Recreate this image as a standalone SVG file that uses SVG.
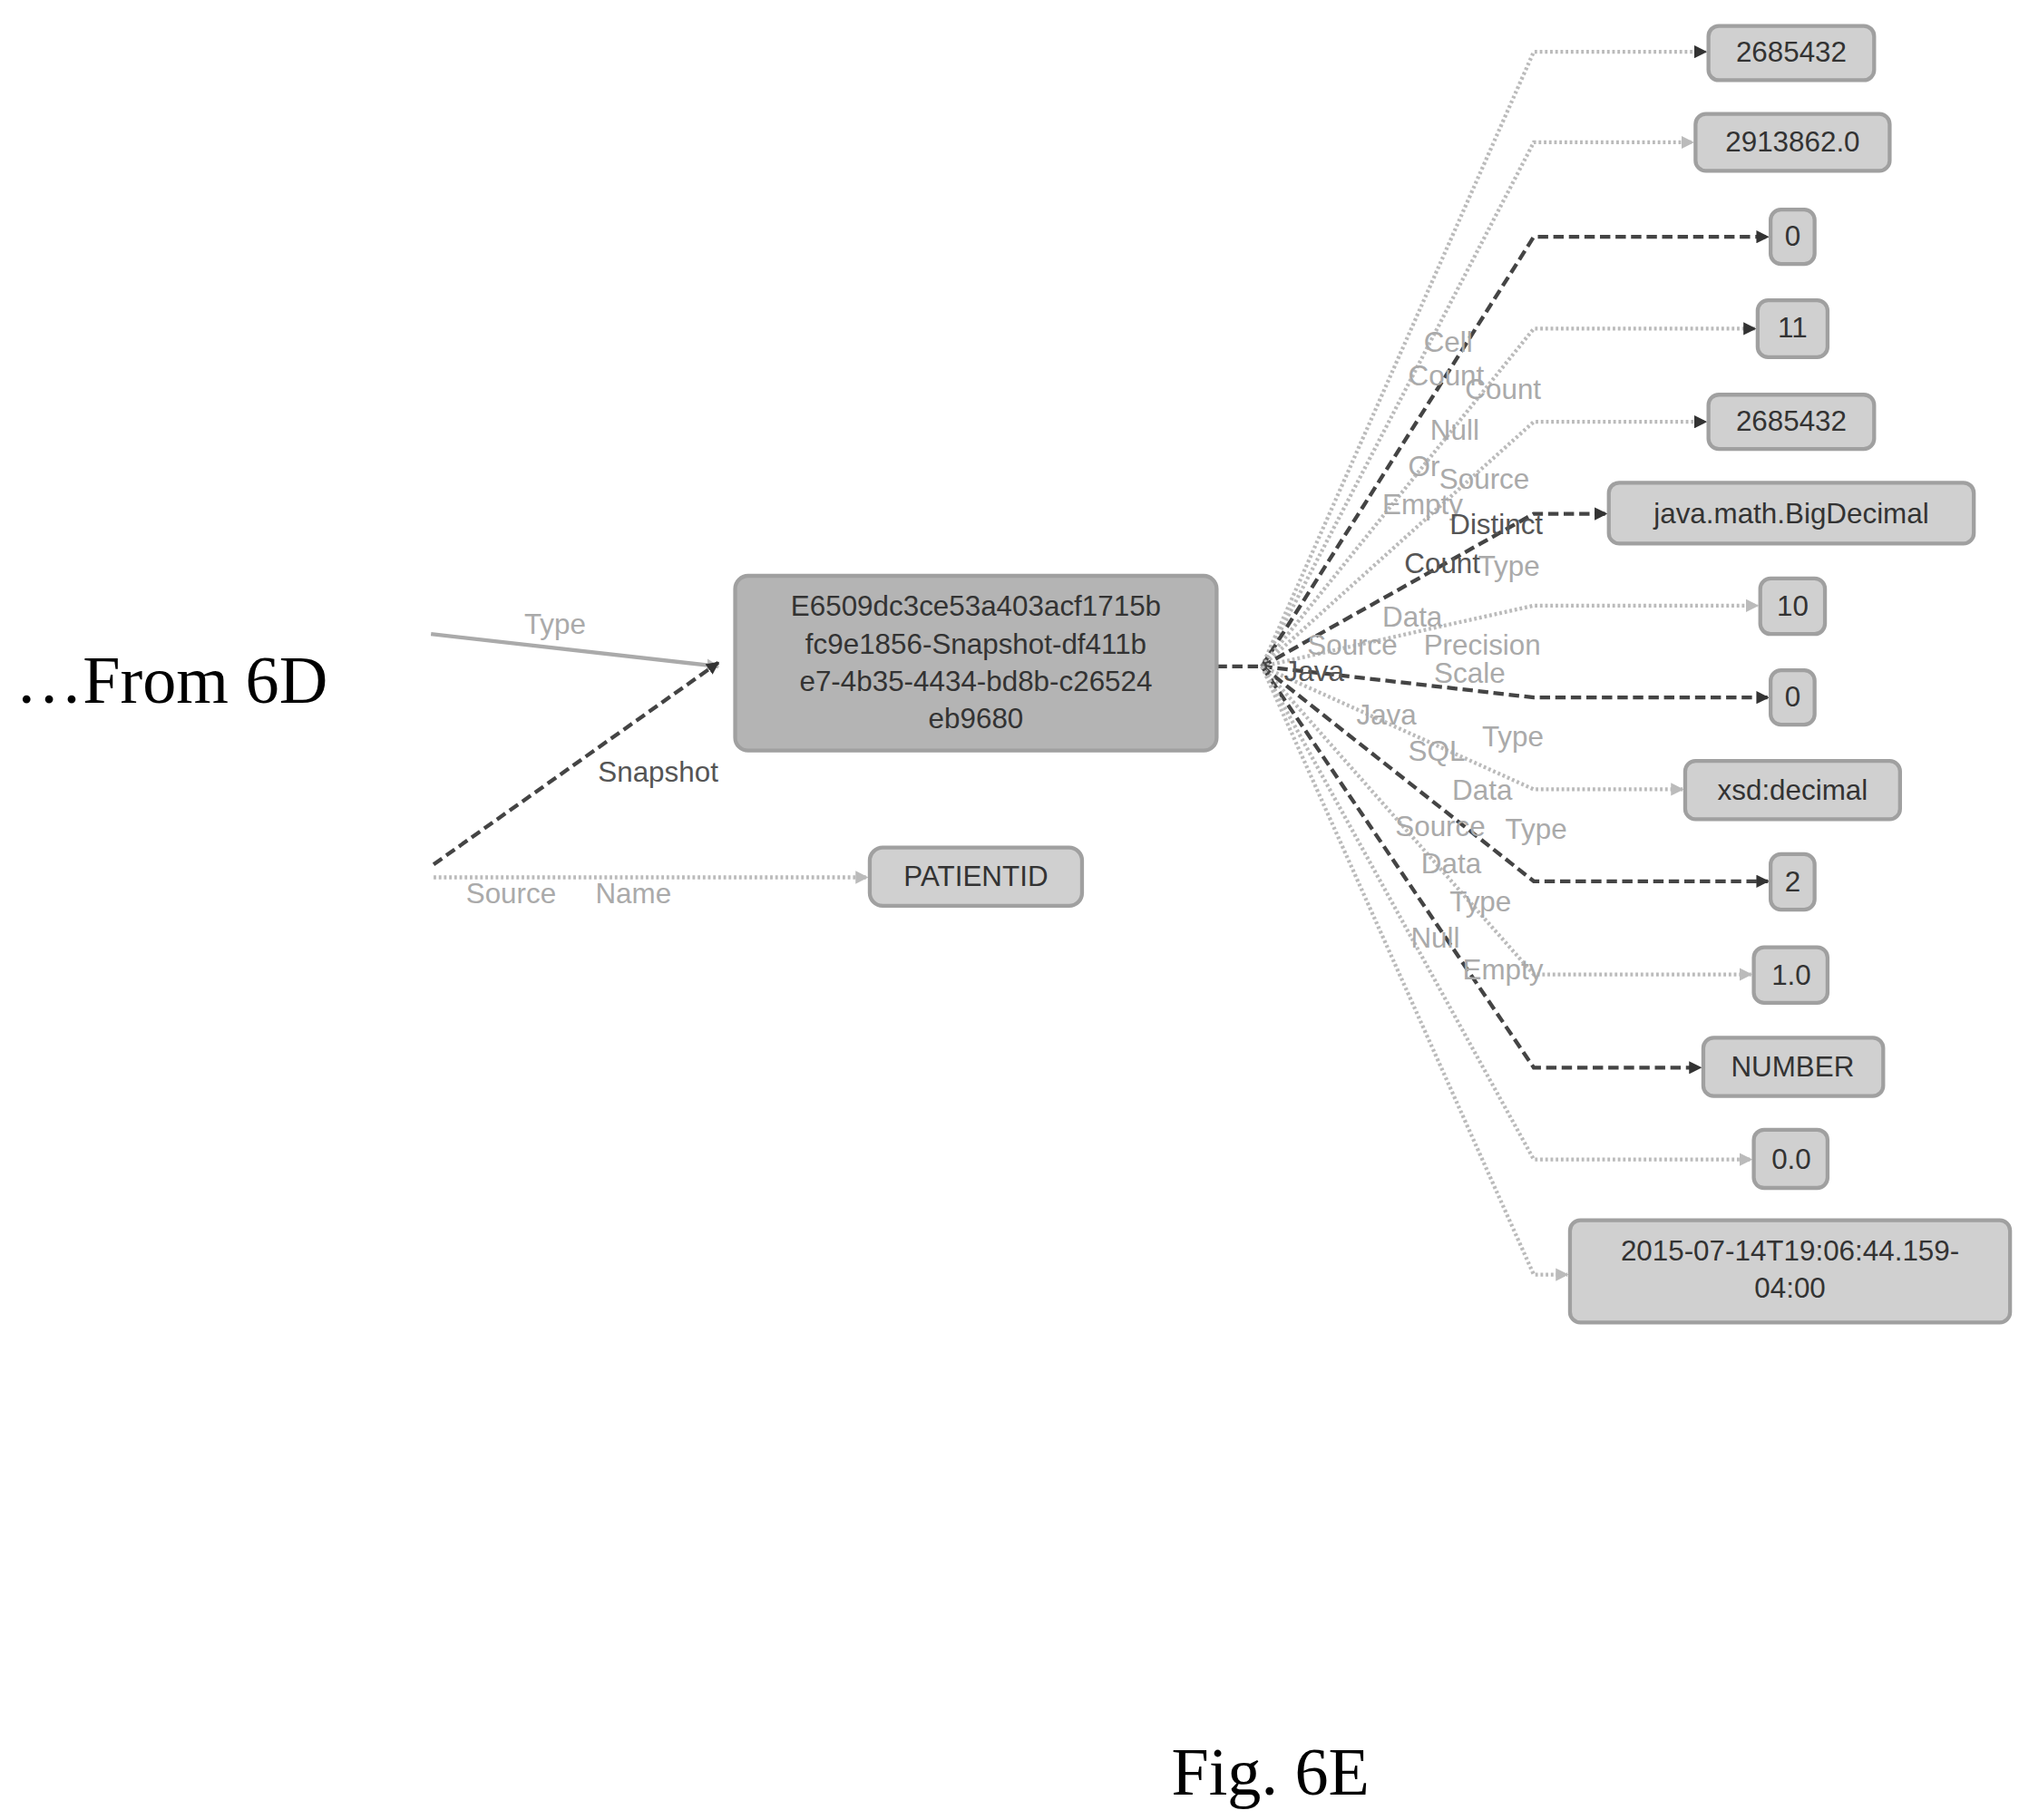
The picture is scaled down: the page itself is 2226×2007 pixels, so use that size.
<svg xmlns="http://www.w3.org/2000/svg" width="2226" height="2007" viewBox="0 0 2226 2007">
<style>
.n rect{fill:#d0d0d0;stroke:#a0a0a0;stroke-width:3}
.n text{font-family:"Liberation Sans",Arial,sans-serif;font-size:22px;fill:#333;text-anchor:middle}
.lg{fill:none;stroke:#bbb;stroke-width:3;stroke-dasharray:2 2}
.dk{fill:none;stroke:#444;stroke-width:3;stroke-dasharray:8 4}
.lb{font-family:"Liberation Sans",Arial,sans-serif;font-size:22px;fill:#aaa}
.lbd{font-family:"Liberation Sans",Arial,sans-serif;font-size:22px;fill:#555}
.big{font-family:"Liberation Serif","Times New Roman",serif;font-size:52px;fill:#000}
</style>
<defs>
<marker id="ag" markerWidth="10" markerHeight="10" refX="9" refY="5" orient="auto" markerUnits="userSpaceOnUse"><path d="M0,0 L10,5 L0,10 z" fill="#bbb"/></marker>
<marker id="ad" markerWidth="10" markerHeight="10" refX="9" refY="5" orient="auto" markerUnits="userSpaceOnUse"><path d="M0,0 L10,5 L0,10 z" fill="#333"/></marker>
</defs>
<rect width="2226" height="2007" fill="#fff"/>
<g transform="scale(1.427)">
<text class="big" x="12" y="543">…From 6D</text>
<text class="big" x="905" y="1387">Fig. 6E</text>
<g id="connectors">
<path d="M333,490 L555,515" fill="none" stroke="#aaa" stroke-width="3" marker-end="url(#ag)"/>
<path d="M335,668 L555,512" class="dk" marker-end="url(#ad)"/>
<path d="M335,678 L670,678" class="lg" marker-end="url(#ag)"/>
<path d="M940,515 L975,515" class="dk"/>
<path d="M975,515 L1185,40 L1318,40" class="lg" marker-end="url(#ad)"/>
<path d="M975,515 L1185,110 L1308,110" class="lg" marker-end="url(#ag)"/>
<path d="M975,515 L1185,183 L1366,183" class="dk" marker-end="url(#ad)"/>
<path d="M975,515 L1185,254 L1356,254" class="lg" marker-end="url(#ad)"/>
<path d="M975,515 L1185,326 L1318,326" class="lg" marker-end="url(#ad)"/>
<path d="M975,515 L1185,397 L1241,397" class="dk" marker-end="url(#ad)"/>
<path d="M975,515 L1185,468 L1358,468" class="lg" marker-end="url(#ag)"/>
<path d="M975,515 L1185,539 L1366,539" class="dk" marker-end="url(#ad)"/>
<path d="M975,515 L1185,610 L1300,610" class="lg" marker-end="url(#ag)"/>
<path d="M975,515 L1185,681 L1366,681" class="dk" marker-end="url(#ad)"/>
<path d="M975,515 L1185,753 L1353,753" class="lg" marker-end="url(#ag)"/>
<path d="M975,515 L1185,825 L1314,825" class="dk" marker-end="url(#ad)"/>
<path d="M975,515 L1185,896 L1353,896" class="lg" marker-end="url(#ag)"/>
<path d="M975,515 L1185,985 L1211,985" class="lg" marker-end="url(#ag)"/>
</g>
<g id="edge-labels">
<text class="lb" x="405" y="490">Type</text>
<text class="lbd" x="462" y="604">Snapshot</text>
<text class="lb" x="360" y="698">Source</text>
<text class="lb" x="460" y="698">Name</text>
<text class="lb" x="1100" y="272">Cell</text>
<text class="lb" x="1088" y="298">Count</text>
<text class="lb" x="1132" y="308">Count</text>
<text class="lb" x="1105" y="340">Null</text>
<text class="lb" x="1088" y="368">Or</text>
<text class="lb" x="1112" y="378">Source</text>
<text class="lb" x="1068" y="397">Empty</text>
<text class="lbd" x="1120" y="413">Distinct</text>
<text class="lbd" x="1085" y="443">Count</text>
<text class="lb" x="1142" y="445">Type</text>
<text class="lb" x="1068" y="484">Data</text>
<text class="lb" x="1010" y="506">Source</text>
<text class="lb" x="1100" y="506">Precision</text>
<text class="lbd" x="992" y="526">Java</text>
<text class="lb" x="1108" y="528">Scale</text>
<text class="lb" x="1048" y="560">Java</text>
<text class="lb" x="1145" y="577">Type</text>
<text class="lb" x="1088" y="588">SQL</text>
<text class="lb" x="1122" y="618">Data</text>
<text class="lb" x="1078" y="646">Source</text>
<text class="lb" x="1163" y="648">Type</text>
<text class="lb" x="1098" y="675">Data</text>
<text class="lb" x="1120" y="704">Type</text>
<text class="lb" x="1090" y="732">Null</text>
<text class="lb" x="1130" y="757">Empty</text>
</g>
<g id="center" class="n"><rect x="568" y="445" width="372" height="135" rx="10" style="fill:#b4b4b4"/>
<text x="754" y="476">E6509dc3ce53a403acf1715b</text><text x="754" y="505">fc9e1856-Snapshot-df411b</text><text x="754" y="534">e7-4b35-4434-bd8b-c26524</text><text x="754" y="563">eb9680</text></g>
<g id="patientid" class="n"><rect x="672" y="655" width="164" height="45" rx="10"/><text x="754" y="685">PATIENTID</text></g>
<g id="v1" class="n"><rect x="1320" y="20" width="128" height="42" rx="8"/><text x="1384" y="48">2685432</text></g>
<g id="v2" class="n"><rect x="1310" y="88" width="150" height="44" rx="8"/><text x="1385" y="117">2913862.0</text></g>
<g id="v3" class="n"><rect x="1368" y="162" width="34" height="42" rx="8"/><text x="1385" y="190">0</text></g>
<g id="v4" class="n"><rect x="1358" y="232" width="54" height="44" rx="8"/><text x="1385" y="261">11</text></g>
<g id="v5" class="n"><rect x="1320" y="305" width="128" height="42" rx="8"/><text x="1384" y="333">2685432</text></g>
<g id="v6" class="n"><rect x="1243" y="373" width="282" height="47" rx="8"/><text x="1384" y="404">java.math.BigDecimal</text></g>
<g id="v7" class="n"><rect x="1360" y="447" width="50" height="43" rx="8"/><text x="1385" y="476">10</text></g>
<g id="v8" class="n"><rect x="1368" y="518" width="34" height="42" rx="8"/><text x="1385" y="546">0</text></g>
<g id="v9" class="n"><rect x="1302" y="588" width="166" height="45" rx="8"/><text x="1385" y="618">xsd:decimal</text></g>
<g id="v10" class="n"><rect x="1368" y="660" width="34" height="43" rx="8"/><text x="1385" y="689">2</text></g>
<g id="v11" class="n"><rect x="1355" y="732" width="57" height="43" rx="8"/><text x="1384" y="761">1.0</text></g>
<g id="v12" class="n"><rect x="1316" y="802" width="139" height="45" rx="8"/><text x="1385" y="832">NUMBER</text></g>
<g id="v13" class="n"><rect x="1355" y="873" width="57" height="45" rx="8"/><text x="1384" y="903">0.0</text></g>
<g id="v14" class="n"><rect x="1213" y="943" width="340" height="79" rx="8"/><text x="1383" y="974">2015-07-14T19:06:44.159-</text><text x="1383" y="1003">04:00</text></g>
</g>
</svg>
